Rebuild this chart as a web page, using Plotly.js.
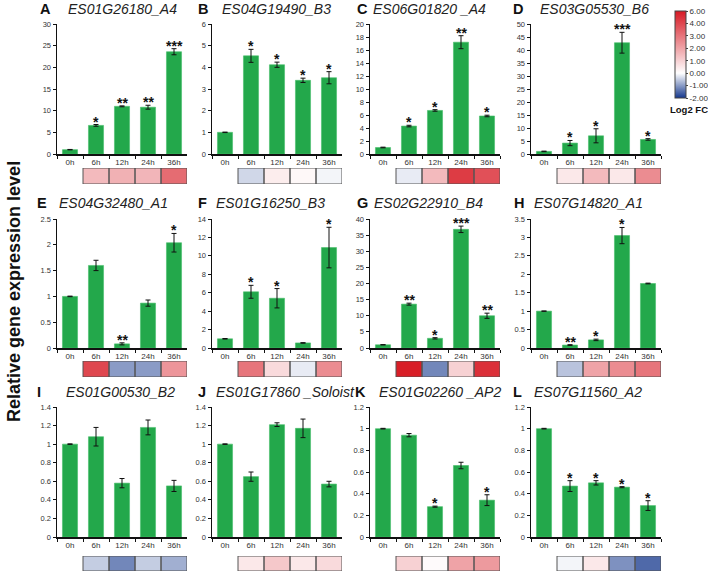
<!DOCTYPE html>
<html><head><meta charset="utf-8">
<script src="https://cdn.plot.ly/plotly-3.0.1.min.js"></script>
<style>html,body{margin:0;padding:0;background:#fff}#chart{width:708px;height:573px}</style>
</head><body><div id="chart"></div>
<script>
// ---------- DATA ----------
const timePoints = ['0h', '6h', '12h', '24h', '36h'];
const heatPoints = ['6h', '12h', '24h', '36h'];
const panelLetters = ['A','B','C','D','E','F','G','H','I','J','K','L'];
const geneNames = ['ES01G26180_A4','ES04G19490_B3','ES06G01820 _A4','ES03G05530_B6',
                   'ES04G32480_A1','ES01G16250_B3','ES02G22910_B4','ES07G14820_A1',
                   'ES01G00530_B2','ES01G17860 _Soloist','ES01G02260 _AP2','ES07G11560_A2'];

const expA = [1.0, 6.6, 11.0, 10.8, 23.6];  const errA = [0.05, 0.2, 0.1, 0.45, 0.7];  const sigA = ['', '*', '**', '**', '***'];  const fcA = [1.5, 1.7, 1.6, 3.2];
const expB = [1.0, 4.53, 4.12, 3.4, 3.52];  const errB = [0.01, 0.3, 0.12, 0.1, 0.28];  const sigB = ['', '*', '*', '*', '*'];      const fcB = [-0.4, 0.4, 0.15, -0.1];
const expC = [1.0, 4.3, 6.7, 17.2, 5.85];   const errC = [0.05, 0.12, 0.12, 1.0, 0.12]; const sigC = ['', '*', '*', '**', '*'];     const fcC = [-0.2, 1.5, 4.5, 3.8];
const expD = [1.0, 4.2, 7.0, 42.8, 5.6];    const errD = [0.1, 1.0, 2.7, 4.0, 0.3];     const sigD = ['', '*', '*', '***', '*'];    const fcD = [0.5, 1.5, 0.5, 2.5];
const expE = [1.0, 1.6, 0.08, 0.87, 2.04];  const errE = [0.005, 0.1, 0.02, 0.06, 0.18]; const sigE = ['', '', '**', '', '*'];     const fcE = [4.0, -1.0, -1.0, 2.3];
const expF = [1.0, 6.1, 5.4, 0.55, 10.9];   const errF = [0.03, 0.7, 1.05, 0.03, 2.2];  const sigF = ['', '*', '*', '', '*'];      const fcF = [3.0, 0.8, -0.2, 2.5];
const expG = [1.0, 13.6, 3.0, 36.8, 10.0];  const errG = [0.05, 0.3, 0.2, 1.0, 0.8];    const sigG = ['', '**', '*', '***', '**'];  const fcG = [5.8, -1.2, 1.0, 5.0];
const expH = [1.0, 0.08, 0.22, 3.05, 1.75]; const errH = [0.005, 0.01, 0.02, 0.22, 0.01]; const sigH = ['', '**', '*', '*', ''];    const fcH = [-0.6, 2.0, 2.5, 3.0];
const expI = [1.0, 1.08, 0.58, 1.18, 0.55]; const errI = [0.003, 0.1, 0.05, 0.08, 0.06]; const sigI = ['', '', '', '', ''];        const fcI = [-0.5, -1.2, -0.5, -0.8];
const expJ = [1.0, 0.65, 1.21, 1.17, 0.57]; const errJ = [0.003, 0.05, 0.02, 0.1, 0.03]; const sigJ = ['', '', '', '', ''];        const fcJ = [0.5, 1.2, 0.5, 0.8];
const expK = [1.0, 0.94, 0.28, 0.66, 0.34]; const errK = [0.003, 0.015, 0.005, 0.03, 0.05]; const sigK = ['', '', '*', '', '*'];   const fcK = [1.0, 0.1, 2.0, 2.2];
const expL = [1.0, 0.47, 0.5, 0.46, 0.29];  const errL = [0.003, 0.05, 0.02, 0.005, 0.045]; const sigL = ['', '*', '*', '*', '*']; const fcL = [-0.1, 0.5, -1.1, -1.5];

const yMax  = [30, 6, 20, 50, 2.5, 14, 40, 3.5, 1.4, 1.4, 1.2, 1.2];
const yStep = [5, 1, 2, 5, 0.5, 2, 5, 0.5, 0.2, 0.2, 0.2, 0.2];
const colorbarTicks = [-2, -1, 0, 1, 2, 3, 4, 6];

const expression = [expA, expB, expC, expD, expE, expF, expG, expH, expI, expJ, expK, expL];
const errors = [errA, errB, errC, errD, errE, errF, errG, errH, errI, errJ, errK, errL];
const signif = [sigA, sigB, sigC, sigD, sigE, sigF, sigG, sigH, sigI, sigJ, sigK, sigL];
const foldChange = [fcA, fcB, fcC, fcD, fcE, fcF, fcG, fcH, fcI, fcJ, fcK, fcL];

// ---------- LAYOUT GEOMETRY (pixels) ----------
const W = 708, H = 573;
const colX = [[57, 187], [212, 342], [370, 500], [531, 661]];
const rowBar = [[24, 154], [219, 348], [407, 537]];
const rowHeat = [[168, 184], [361, 377], [556, 571]];
const letterX = [45, 203, 362, 518, 42, 202, 362, 519, 39, 202, 360, 517];
const geneX = [122, 276, 429, 594, 113, 270, 428, 588, 120, 285, 440, 588];
const titleY = [9, 203, 392];

// non-linear colour bar position (labels -2..4 evenly, then 6 at top)
const pos = v => v <= 4 ? v : 4 + (v - 4) / 2;

const px = x => x / W;
const py = y => 1 - y / H;
const ax = (p, n) => n === 1 ? p : p + n;

const FONT = 'Arial, "Liberation Sans", sans-serif';
const data = [];
const layout = {
  width: W, height: H,
  margin: {l: 0, r: 0, t: 0, b: 0, autoexpand: false},
  paper_bgcolor: '#fff', plot_bgcolor: 'rgba(0,0,0,0)',
  showlegend: false,
  font: {family: FONT, color: '#222'},
  annotations: [], shapes: [],
  coloraxis: {
    cmin: pos(-2), cmax: pos(6),
    colorscale: [[0, 'rgb(20,55,140)'], [(0 - pos(-2)) / (pos(6) - pos(-2)), 'rgb(255,255,255)'], [1, 'rgb(215,25,35)']],
    colorbar: {
      x: px(675), xanchor: 'left', y: py(11), yanchor: 'top',
      len: 87, lenmode: 'pixels', thickness: 11, thicknessmode: 'pixels',
      xpad: 0, ypad: 0, outlinewidth: 1, outlinecolor: '#444',
      ticks: 'outside', ticklen: 2, tickcolor: '#444',
      tickvals: colorbarTicks.map(pos), ticktext: colorbarTicks.map(v => v.toFixed(2)),
      tickfont: {size: 8, color: '#333', family: FONT}
    }
  }
};

for (let i = 0; i < 12; i++) {
  const row = Math.floor(i / 4), col = i % 4;
  const n = i + 1, h = i + 13;
  const xd = [px(colX[col][0]), px(colX[col][1])];
  // bars
  data.push({
    type: 'bar', x: timePoints, y: expression[i],
    xaxis: ax('x', n), yaxis: ax('y', n),
    width: 0.58, marker: {color: 'rgb(35,168,75)', line: {color: 'rgb(70,190,105)', width: 0.6}},
    error_y: {type: 'data', array: errors[i], visible: true, color: '#111', thickness: 1, width: 2.5},
    hoverinfo: 'x+y'
  });
  // significance stars
  timePoints.forEach((t, k) => {
    if (!signif[i][k]) return;
    layout.annotations.push({
      xref: ax('x', n), yref: ax('y', n), x: t, y: expression[i][k] + errors[i][k],
      text: '<b>' + signif[i][k] + '</b>', showarrow: false, xanchor: 'center', yanchor: 'bottom',
      yshift: -6, borderpad: 0, font: {size: 14, color: '#111', family: FONT}
    });
  });
  // heat strip
  data.push({
    type: 'heatmap', x: heatPoints, y: [0], z: [foldChange[i].map(pos)],
    coloraxis: 'coloraxis', xaxis: 'x' + h, yaxis: 'y' + h, hoverinfo: 'skip'
  });

  layout[ax('xaxis', n)] = {
    domain: xd, anchor: ax('y', n), type: 'category', categoryorder: 'array', categoryarray: timePoints,
    range: [-0.5, 4.5], showline: true, linecolor: '#111', linewidth: 1.5,
    ticks: 'outside', ticklen: 3, tickwidth: 1, tickcolor: '#111', tickson: 'boundaries',
    tickfont: {size: 8, color: '#333', family: FONT}, showgrid: false, zeroline: false, fixedrange: true
  };
  layout[ax('yaxis', n)] = {
    domain: [py(rowBar[row][1]), py(rowBar[row][0])], anchor: ax('x', n),
    range: [0, yMax[i]], dtick: yStep[i], tick0: 0,
    showline: true, linecolor: '#111', linewidth: 1.5,
    ticks: 'outside', ticklen: 3, tickwidth: 1, tickcolor: '#111',
    tickfont: {size: 7.5, color: '#333', family: FONT}, showgrid: false, zeroline: false, fixedrange: true
  };
  layout['xaxis' + h] = {
    domain: xd, anchor: 'y' + h, type: 'category', categoryorder: 'array', categoryarray: timePoints,
    range: [-0.5, 4.5], visible: false, fixedrange: true
  };
  layout['yaxis' + h] = {
    domain: [py(rowHeat[row][1]), py(rowHeat[row][0])], anchor: 'x' + h,
    range: [-0.5, 0.5], visible: false, fixedrange: true
  };
  heatPoints.forEach((c, k) => {
    const idx = timePoints.indexOf(c);
    layout.shapes.push({type: 'rect', xref: 'x' + h, yref: 'y' + h,
      x0: idx - 0.5, x1: idx + 0.5, y0: -0.5, y1: 0.5,
      line: {color: '#555', width: 1}, layer: 'above'});
  });
  // titles
  layout.annotations.push({text: '<b>' + panelLetters[i] + '</b>', xref: 'paper', yref: 'paper',
    x: px(letterX[i]), y: py(titleY[row]), xanchor: 'center', yanchor: 'middle', showarrow: false,
    font: {size: 14.5, color: '#111', family: FONT}});
  layout.annotations.push({text: '<i>' + geneNames[i] + '</i>', xref: 'paper', yref: 'paper',
    x: px(geneX[i]), y: py(titleY[row]), xanchor: 'center', yanchor: 'middle', showarrow: false,
    font: {size: 14, color: '#222', family: FONT}});
}

layout.annotations.push({text: '<b>Relative gene expression level</b>', xref: 'paper', yref: 'paper',
  x: px(14), y: py(292), xanchor: 'center', yanchor: 'middle', textangle: -90, showarrow: false,
  font: {size: 18, color: '#111', family: FONT}});
layout.annotations.push({text: '<b>Log2 FC</b>', xref: 'paper', yref: 'paper',
  x: px(689), y: py(110), xanchor: 'center', yanchor: 'middle', showarrow: false,
  font: {size: 9.5, color: '#111', family: FONT}});

Plotly.newPlot('chart', data, layout, {staticPlot: true, displayModeBar: false});
</script>
</body></html>
